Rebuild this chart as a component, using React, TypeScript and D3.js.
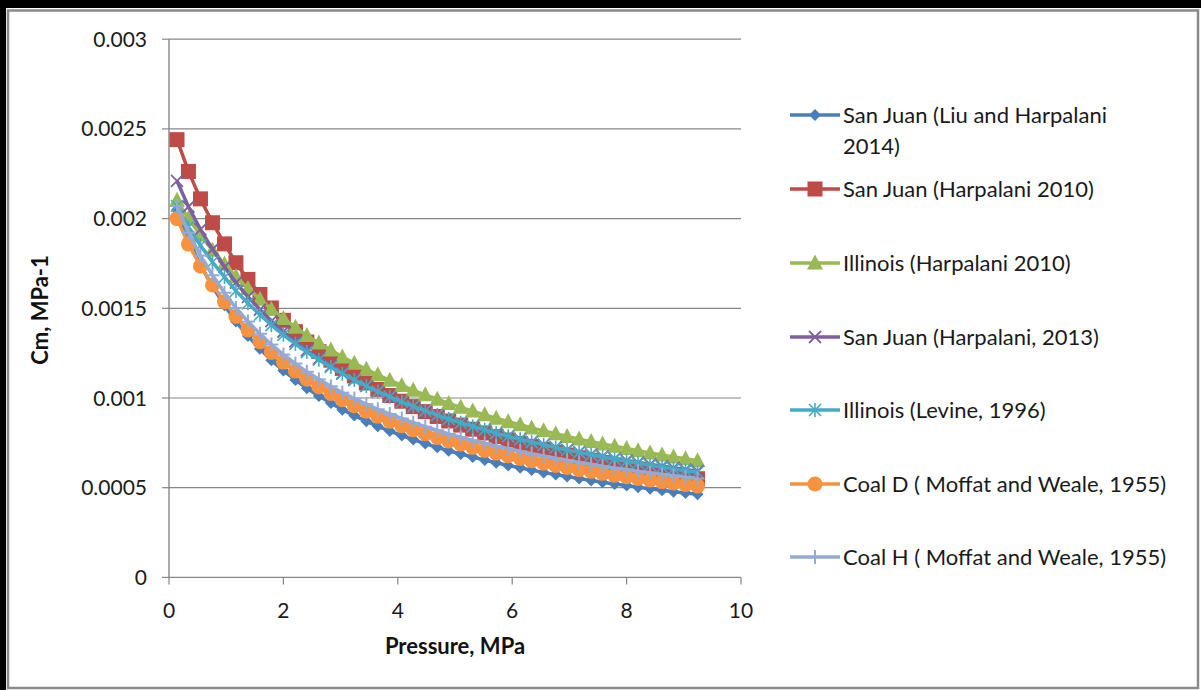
import React from "react";
import * as d3 from "d3";

// Pressure, MPa (x values shared by all series)
const pressureMPa = [0.14, 0.34, 0.55, 0.76, 0.97, 1.17, 1.38, 1.59, 1.79, 2.0, 2.21, 2.41, 2.62, 2.83, 3.03, 3.24, 3.45, 3.65, 3.86, 4.07, 4.27, 4.48, 4.69, 4.89, 5.1, 5.31, 5.52, 5.72, 5.93, 6.14, 6.34, 6.55, 6.76, 6.96, 7.17, 7.38, 7.58, 7.79, 8.0, 8.2, 8.41, 8.62, 8.82, 9.03, 9.24];

// Cm, MPa-1
const sanJuanLiu2014 = [20.5e-4, 18.83e-4, 17.42e-4, 16.21e-4, 15.17e-4, 14.26e-4, 13.45e-4, 12.74e-4, 12.1e-4, 11.53e-4, 11.01e-4, 10.54e-4, 10.11e-4, 9.72e-4, 9.35e-4, 9.02e-4, 8.71e-4, 8.42e-4, 8.16e-4, 7.91e-4, 7.68e-4, 7.46e-4, 7.25e-4, 7.06e-4, 6.88e-4, 6.71e-4, 6.54e-4, 6.39e-4, 6.24e-4, 6.11e-4, 5.98e-4, 5.85e-4, 5.73e-4, 5.62e-4, 5.51e-4, 5.4e-4, 5.3e-4, 5.21e-4, 5.12e-4, 5.03e-4, 4.94e-4, 4.86e-4, 4.78e-4, 4.71e-4, 4.64e-4];
const sanJuanHarpalani2010 = [24.4e-4, 22.63e-4, 21.1e-4, 19.77e-4, 18.59e-4, 17.54e-4, 16.61e-4, 15.77e-4, 15.02e-4, 14.33e-4, 13.7e-4, 13.12e-4, 12.59e-4, 12.11e-4, 11.65e-4, 11.23e-4, 10.84e-4, 10.48e-4, 10.14e-4, 9.82e-4, 9.52e-4, 9.24e-4, 8.97e-4, 8.72e-4, 8.49e-4, 8.26e-4, 8.05e-4, 7.85e-4, 7.66e-4, 7.47e-4, 7.3e-4, 7.13e-4, 6.97e-4, 6.82e-4, 6.67e-4, 6.53e-4, 6.4e-4, 6.27e-4, 6.15e-4, 6.03e-4, 5.92e-4, 5.81e-4, 5.7e-4, 5.6e-4, 5.5e-4];
const illinoisHarpalani2010 = [21.02e-4, 20.0e-4, 19.08e-4, 18.24e-4, 17.47e-4, 16.76e-4, 16.11e-4, 15.51e-4, 14.95e-4, 14.43e-4, 13.94e-4, 13.49e-4, 13.06e-4, 12.67e-4, 12.29e-4, 11.94e-4, 11.6e-4, 11.29e-4, 10.99e-4, 10.7e-4, 10.43e-4, 10.18e-4, 9.93e-4, 9.7e-4, 9.48e-4, 9.27e-4, 9.06e-4, 8.87e-4, 8.68e-4, 8.51e-4, 8.33e-4, 8.17e-4, 8.01e-4, 7.86e-4, 7.71e-4, 7.57e-4, 7.44e-4, 7.31e-4, 7.18e-4, 7.06e-4, 6.94e-4, 6.82e-4, 6.71e-4, 6.61e-4, 6.5e-4];
const sanJuanHarpalani2013 = [22.1e-4, 20.66e-4, 19.4e-4, 18.29e-4, 17.31e-4, 16.43e-4, 15.64e-4, 14.93e-4, 14.29e-4, 13.7e-4, 13.15e-4, 12.66e-4, 12.2e-4, 11.78e-4, 11.38e-4, 11.02e-4, 10.68e-4, 10.36e-4, 10.06e-4, 9.78e-4, 9.51e-4, 9.27e-4, 9.03e-4, 8.81e-4, 8.6e-4, 8.4e-4, 8.21e-4, 8.03e-4, 7.86e-4, 7.7e-4, 7.54e-4, 7.39e-4, 7.25e-4, 7.11e-4, 6.98e-4, 6.86e-4, 6.74e-4, 6.62e-4, 6.51e-4, 6.4e-4, 6.3e-4, 6.2e-4, 6.11e-4, 6.01e-4, 5.92e-4];
const illinoisLevine1996 = [20.7e-4, 19.54e-4, 18.5e-4, 17.58e-4, 16.74e-4, 15.97e-4, 15.28e-4, 14.64e-4, 14.06e-4, 13.52e-4, 13.02e-4, 12.56e-4, 12.13e-4, 11.73e-4, 11.35e-4, 11.0e-4, 10.67e-4, 10.36e-4, 10.07e-4, 9.79e-4, 9.53e-4, 9.29e-4, 9.05e-4, 8.83e-4, 8.62e-4, 8.42e-4, 8.23e-4, 8.04e-4, 7.87e-4, 7.7e-4, 7.54e-4, 7.39e-4, 7.24e-4, 7.1e-4, 6.97e-4, 6.84e-4, 6.71e-4, 6.59e-4, 6.47e-4, 6.36e-4, 6.25e-4, 6.15e-4, 6.05e-4, 5.95e-4, 5.86e-4];
const coalDMoffat1955 = [20.0e-4, 18.58e-4, 17.36e-4, 16.3e-4, 15.37e-4, 14.54e-4, 13.8e-4, 13.14e-4, 12.54e-4, 12.0e-4, 11.5e-4, 11.05e-4, 10.63e-4, 10.25e-4, 9.9e-4, 9.57e-4, 9.26e-4, 8.98e-4, 8.71e-4, 8.46e-4, 8.23e-4, 8.01e-4, 7.8e-4, 7.61e-4, 7.43e-4, 7.25e-4, 7.08e-4, 6.93e-4, 6.78e-4, 6.63e-4, 6.5e-4, 6.37e-4, 6.24e-4, 6.13e-4, 6.01e-4, 5.91e-4, 5.8e-4, 5.7e-4, 5.61e-4, 5.51e-4, 5.43e-4, 5.34e-4, 5.26e-4, 5.18e-4, 5.1e-4];
const coalHMoffat1955 = [20.7e-4, 19.21e-4, 17.94e-4, 16.84e-4, 15.87e-4, 15.02e-4, 14.26e-4, 13.58e-4, 12.98e-4, 12.42e-4, 11.92e-4, 11.46e-4, 11.04e-4, 10.65e-4, 10.3e-4, 9.97e-4, 9.66e-4, 9.37e-4, 9.11e-4, 8.86e-4, 8.62e-4, 8.4e-4, 8.2e-4, 8.0e-4, 7.82e-4, 7.64e-4, 7.48e-4, 7.32e-4, 7.17e-4, 7.03e-4, 6.89e-4, 6.77e-4, 6.64e-4, 6.53e-4, 6.41e-4, 6.31e-4, 6.2e-4, 6.1e-4, 6.01e-4, 5.92e-4, 5.83e-4, 5.75e-4, 5.67e-4, 5.59e-4, 5.51e-4];

const seriesNames = [
  "San Juan (Liu and Harpalani 2014)",
  "San Juan (Harpalani 2010)",
  "Illinois (Harpalani 2010)",
  "San Juan (Harpalani, 2013)",
  "Illinois (Levine, 1996)",
  "Coal D ( Moffat and Weale, 1955)",
  "Coal H ( Moffat and Weale, 1955)",
];
const seriesValues = [
  sanJuanLiu2014,
  sanJuanHarpalani2010,
  illinoisHarpalani2010,
  sanJuanHarpalani2013,
  illinoisLevine1996,
  coalDMoffat1955,
  coalHMoffat1955,
];
const seriesColors = ["#4A7EBB", "#BE4B48", "#98B954", "#7D60A0", "#46AAC5", "#F69240", "#93AAD5"];
const seriesMarkers = ["diamond", "square", "triangle", "x", "asterisk", "circle", "plus"];

const yTicks = [0, 0.0005, 0.001, 0.0015, 0.002, 0.0025, 0.003];
const yTickLabels = ["0", "0.0005", "0.001", "0.0015", "0.002", "0.0025", "0.003"];
const xTicks = [0, 2, 4, 6, 8, 10];

const FONT = "Lato, 'Open Sans', sans-serif";

function Marker({ type, cx, cy, color }: { type: string; cx: number; cy: number; color: string }) {
  switch (type) {
    case "diamond":
      return <path d={`M${cx},${cy - 6}L${cx + 6},${cy}L${cx},${cy + 6}L${cx - 6},${cy}Z`} fill={color} />;
    case "square":
      return <rect x={cx - 7.5} y={cy - 7.5} width={15} height={15} fill={color} />;
    case "triangle":
      return <path d={`M${cx},${cy - 8.5}L${cx + 8},${cy + 6.5}L${cx - 8},${cy + 6.5}Z`} fill={color} />;
    case "circle":
      return <circle cx={cx} cy={cy} r={7.5} fill={color} />;
    case "x":
      return (
        <g stroke={color} strokeWidth={1.8}>
          <line x1={cx - 6} y1={cy - 6} x2={cx + 6} y2={cy + 6} />
          <line x1={cx - 6} y1={cy + 6} x2={cx + 6} y2={cy - 6} />
        </g>
      );
    case "asterisk":
      return (
        <g stroke={color} strokeWidth={1.6}>
          <line x1={cx - 6} y1={cy - 6} x2={cx + 6} y2={cy + 6} />
          <line x1={cx - 6} y1={cy + 6} x2={cx + 6} y2={cy - 6} />
          <line x1={cx} y1={cy - 7} x2={cx} y2={cy + 7} />
        </g>
      );
    case "plus":
      return (
        <g stroke={color} strokeWidth={2}>
          <line x1={cx} y1={cy - 7} x2={cx} y2={cy + 7} />
          <line x1={cx - 7} y1={cy} x2={cx + 7} y2={cy} />
        </g>
      );
    default:
      return null;
  }
}

export default function App() {
  const x = d3.scaleLinear().domain([0, 10]).range([169, 741]);
  const y = d3.scaleLinear().domain([0, 0.003]).range([577.4, 39.2]);
  const line = d3
    .line<number>()
    .x((_, i) => x(pressureMPa[i]))
    .y((d) => y(d));

  const legendX = 790;
  const legendRows = [115, 189, 263, 337, 410, 484, 557];

  return (
    <svg
      width={1201}
      height={690}
      style={{ position: "absolute", left: 0, top: 0, display: "block", background: "#fff" }}
      fontFamily={FONT}
    >
      <rect x={0} y={0} width={1201} height={690} fill="#fff" />
      {/* frame */}
      <rect x={8} y={10.5} width={1190} height={677.5} fill="none" stroke="#8a8a8a" strokeWidth={2.5} />
      <rect x={0} y={0} width={6} height={690} fill="#000" />
      <rect x={0} y={0} width={1201} height={8} fill="#000" />

      {/* gridlines */}
      {yTicks.map((t) => (
        <line key={"g" + t} x1={x(0)} x2={x(10)} y1={y(t)} y2={y(t)} stroke="#878787" strokeWidth={1.2} />
      ))}
      {/* y axis */}
      <line x1={x(0)} x2={x(0)} y1={y(0.003)} y2={y(0)} stroke="#878787" strokeWidth={1.4} />
      {yTicks.map((t) => (
        <line key={"yt" + t} x1={x(0) - 7} x2={x(0)} y1={y(t)} y2={y(t)} stroke="#878787" strokeWidth={1.2} />
      ))}
      {xTicks.map((t) => (
        <line key={"xt" + t} x1={x(t)} x2={x(t)} y1={y(0)} y2={y(0) + 7} stroke="#878787" strokeWidth={1.2} />
      ))}
      {yTicks.map((t, i) => (
        <text key={"yl" + t} x={147} y={y(t)} dy="0.36em" textAnchor="end" fontSize={21} fill="#1a1a1a">
          {yTickLabels[i]}
        </text>
      ))}
      {xTicks.map((t) => (
        <text key={"xl" + t} x={x(t)} y={610} dy="0.36em" textAnchor="middle" fontSize={21} fill="#1a1a1a">
          {t}
        </text>
      ))}
      <text x={455} y={646} dy="0.36em" textAnchor="middle" fontSize={22} fontWeight="bold" fill="#111">
        Pressure, MPa
      </text>
      <text
        transform={`translate(40,310) rotate(-90)`}
        dy="0.36em"
        textAnchor="middle"
        fontSize={22}
        fontWeight="bold"
        fill="#111"
      >
        Cm, MPa-1
      </text>

      {/* series */}
      {seriesValues.map((vals, si) => (
        <g key={"s" + si}>
          <path d={line(vals) || ""} fill="none" stroke={seriesColors[si]} strokeWidth={3.5} strokeLinejoin="round" />
          {vals.map((v, i) => (
            <Marker key={i} type={seriesMarkers[si]} cx={x(pressureMPa[i])} cy={y(v)} color={seriesColors[si]} />
          ))}
        </g>
      ))}

      {/* legend */}
      {seriesNames.map((name, si) => {
        const cy = legendRows[si];
        const lines = si === 0 ? ["San Juan (Liu and Harpalani", "2014)"] : [name];
        return (
          <g key={"lg" + si}>
            <line x1={legendX} x2={legendX + 50} y1={cy} y2={cy} stroke={seriesColors[si]} strokeWidth={3.5} />
            <Marker type={seriesMarkers[si]} cx={legendX + 25} cy={cy} color={seriesColors[si]} />
            {lines.map((t, li) => (
              <text key={li} x={legendX + 53} y={cy + li * 31} dy="0.36em" fontSize={22} fill="#1a1a1a">
                {t}
              </text>
            ))}
          </g>
        );
      })}
    </svg>
  );
}
